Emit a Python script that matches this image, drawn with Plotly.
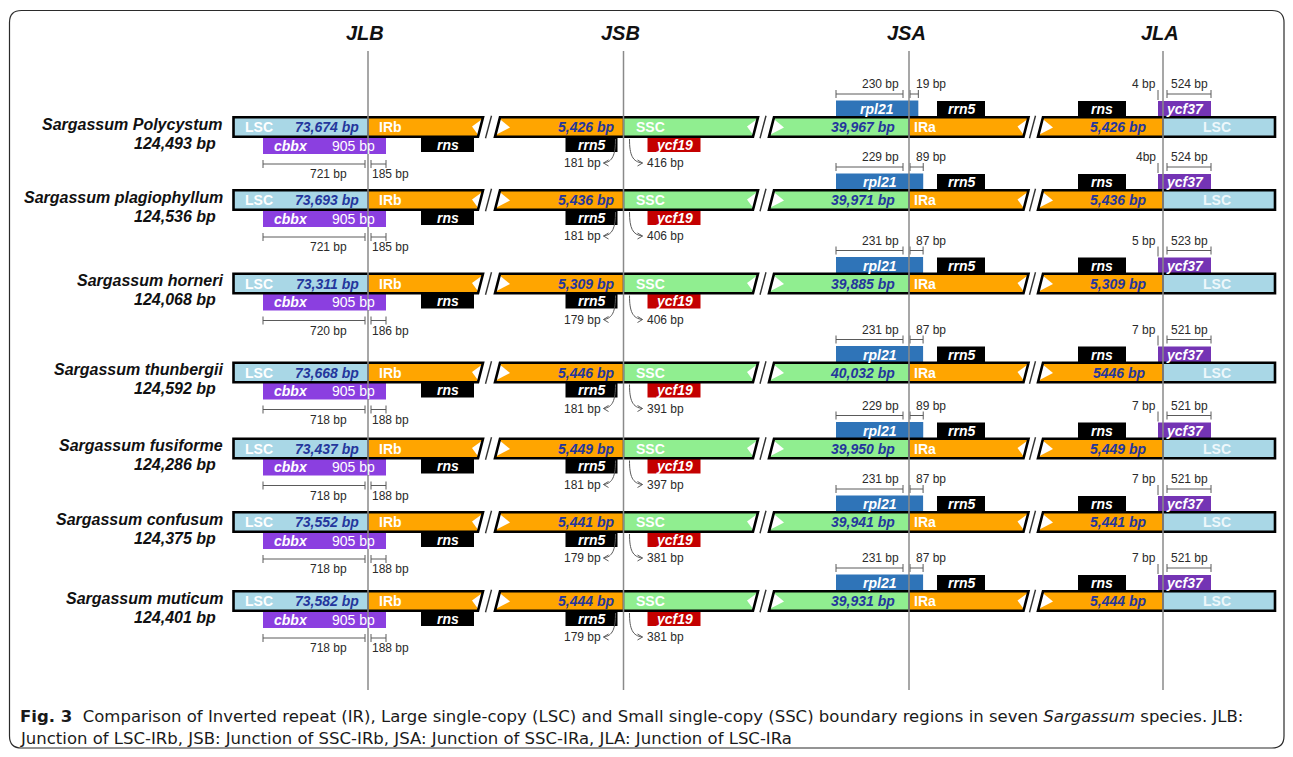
import plotly.graph_objects as go

# ---------------- data ----------------
junctions = ["JLB", "JSB", "JSA", "JLA"]
species = ["Sargassum Polycystum", "Sargassum plagiophyllum", "Sargassum horneri",
           "Sargassum thunbergii", "Sargassum fusiforme", "Sargassum confusum",
           "Sargassum muticum"]
genome_size = ["124,493 bp", "124,536 bp", "124,068 bp", "124,592 bp",
               "124,286 bp", "124,375 bp", "124,401 bp"]
lsc_len = ["73,674 bp", "73,693 bp", "73,311 bp", "73,668 bp", "73,437 bp", "73,552 bp", "73,582 bp"]
irb_len = ["5,426 bp", "5,436 bp", "5,309 bp", "5,446 bp", "5,449 bp", "5,441 bp", "5,444 bp"]
ssc_len = ["39,967 bp", "39,971 bp", "39,885 bp", "40,032 bp", "39,950 bp", "39,941 bp", "39,931 bp"]
ira_len = ["5,426 bp", "5,436 bp", "5,309 bp", "5446 bp", "5,449 bp", "5,441 bp", "5,444 bp"]
cbbx_size = "905 bp"
cbbx_in_lsc = [721, 721, 720, 718, 718, 718, 718]
cbbx_in_irb = [185, 185, 186, 188, 188, 188, 188]
rrn5_to_jsb = [181, 181, 179, 181, 181, 179, 179]
ycf19_to_jsb = [416, 406, 406, 391, 397, 381, 381]
rpl21_in_ssc = [230, 229, 231, 231, 229, 231, 231]
rpl21_in_ira = [19, 89, 87, 87, 89, 87, 87]
ycf37_in_ira = ["4 bp", "4bp", "5 bp", "7 bp", "7 bp", "7 bp", "7 bp"]
ycf37_in_lsc = [524, 524, 523, 521, 521, 521, 521]
caption_1 = ("<b>Fig. 3</b>  Comparison of Inverted repeat (IR), Large single-copy (LSC) and "
             "Small single-copy (SSC) boundary regions in seven <i>Sargassum</i> species. JLB:")
caption_2 = "Junction of LSC-IRb, JSB: Junction of SSC-IRb, JSA: Junction of SSC-IRa, JLA: Junction of LSC-IRa"

# ---------------- layout / style ----------------
FONT = "Liberation Sans, Arial, Helvetica, sans-serif"
W, H = 1293, 757
PAGE_MARGIN = 8          # default body margin of the html page
JX = {"JLB": 368, "JSB": 623.5, "JSA": 909, "JLA": 1163}
ROW_Y = [127, 200, 283.5, 372.5, 448.5, 522, 601]
HALF = 9.75
SL = 5
SEG = [(233.5, 483, False, True, "JLB"), (495, 758, True, True, "JSB"),
       (769, 1028.5, True, True, "JSA"), (1038, 1275, True, False, "JLA")]
SLASHES = [488.5, 763, 1032.5]

C_LSC, C_IR, C_SSC = "#a9d7e6", "#ffa500", "#90ee90"
C_CBBX, C_YCF37, C_RPL21, C_YCF19, C_BLK = "#8b3fe0", "#7434b4", "#2f74b8", "#c40000", "#000000"
C_NUM, C_MEAS, C_MTXT = "#24369c", "#5a5a5a", "#2a2a2a"
MEAS_SIZE = 12

shapes, ann = [], []


def poly(pts):
    return "M " + " L ".join(f"{x:.2f},{y:.2f}" for x, y in pts) + " Z"


def add_fill(pts, fill):
    shapes.append(dict(type="path", xref="x", yref="y", path=poly(pts), fillcolor=fill,
                       line=dict(width=0, color="rgba(0,0,0,0)"), layer="below"))


def add_outline(pts, color, width):
    shapes.append(dict(type="path", xref="x", yref="y", path=poly(pts), fillcolor="rgba(0,0,0,0)",
                       line=dict(width=width, color=color), layer="below"))


def add_line(x0, y0, x1, y1, color, width):
    shapes.append(dict(type="line", xref="x", yref="y", x0=x0, y0=y0, x1=x1, y1=y1,
                       line=dict(color=color, width=width), layer="below"))


def add_path(d, color, width):
    shapes.append(dict(type="path", xref="x", yref="y", path=d, fillcolor="rgba(0,0,0,0)",
                       line=dict(color=color, width=width), layer="below"))


def add_rect(x0, y0, x1, y1, fill):
    shapes.append(dict(type="rect", xref="x", yref="y", x0=x0, y0=y0, x1=x1, y1=y1,
                       fillcolor=fill, line=dict(width=0), layer="below"))


def text(x, y, t, size, color, anchor="center", bold=False, italic=False, family=FONT, align="left"):
    if italic:
        t = f"<i>{t}</i>"
    if bold:
        t = f"<b>{t}</b>"
    ann.append(dict(x=x, y=y, xref="x", yref="y", text=t, showarrow=False, xanchor=anchor,
                    yanchor="middle", align=align, font=dict(family=family, size=size, color=color)))


def measure(xa, xb, y):
    add_line(xa, y, xb, y, C_MEAS, 1)
    add_line(xa, y - 4, xa, y + 4, C_MEAS, 1)
    add_line(xb, y - 4, xb, y + 4, C_MEAS, 1)


# outer rounded frame
x0f, y0f, x1f, y1f, r = 9.5, 10.5, 1284, 748, 12
add_path(f"M {x0f+r},{y0f} L {x1f-r},{y0f} Q {x1f},{y0f} {x1f},{y0f+r} L {x1f},{y1f-r} "
         f"Q {x1f},{y1f} {x1f-r},{y1f} L {x0f+r},{y1f} Q {x0f},{y1f} {x0f},{y1f-r} "
         f"L {x0f},{y0f+r} Q {x0f},{y0f} {x0f+r},{y0f} Z", "#2b2b2b", 1.2)

colors = {"JLB": (C_LSC, C_IR), "JSB": (C_IR, C_SSC), "JSA": (C_SSC, C_IR), "JLA": (C_IR, C_LSC)}

for i, cy in enumerate(ROW_Y):
    top, bot = cy - HALF, cy + HALF
    jlb, jsb, jsa, jla = JX["JLB"], JX["JSB"], JX["JSA"], JX["JLA"]

    # ---- gene boxes (drawn first so the bar outline sits on top) ----
    add_rect(jlb - 105, cy + 10, jlb + 18, cy + 27, C_CBBX)
    add_rect(jlb + 53, cy + 10, jlb + 106, cy + 25, C_BLK)
    add_rect(jsb - 58, cy + 10, jsb - 6, cy + 25, C_BLK)
    add_rect(jsb + 24, cy + 10, jsb + 77, cy + 25, C_YCF19)
    rpl_r = jsa + 8 + 0.07 * rpl21_in_ira[i]
    add_rect(jsa - 73, cy - 26.5, rpl_r, cy - 9.5, C_RPL21)
    add_rect(jsa + 28, cy - 26, jsa + 76, cy - 10, C_BLK)
    add_rect(jla - 85, cy - 26, jla - 37, cy - 10, C_BLK)
    add_rect(jla - 5, cy - 26, jla + 48, cy - 10, C_YCF37)

    # ---- the four bar pieces ----
    for (x0, x1, ls, rs, jn) in SEG:
        J = JX[jn]
        cl, cr = colors[jn]
        tl = x0 + (SL if ls else 0)
        bl = x0
        tr = x1
        br = x1 - (SL if rs else 0)
        add_fill([(tl, top), (J, top), (J, bot), (bl, bot)], cl)
        add_fill([(J, top), (tr, top), (br, bot), (J, bot)], cr)
        if ls:
            add_fill([(bl + 5, top + 2), (bl + 15, cy + 0.5), (bl + 1, bot - 2)], "white")
        if rs:
            add_fill([(tr - 1, top + 2), (tr - 11, cy - 0.5), (tr - 5, bot - 2)], "white")
        add_line(J, top, J, bot, "#222222", 1.5)
        add_outline([(tl, top), (tr, top), (br, bot), (bl, bot)], "#000000", 2.6)
    for sx in SLASHES:
        add_line(sx - 3, bot + 1.5, sx + 3, top - 1.5, "#333333", 1.4)

    # ---- bar texts ----
    text(243, cy, "LSC", 14, "white", "left", bold=True)
    text(jlb - 7, cy, lsc_len[i], 14, C_NUM, "right", bold=True, italic=True)
    text(jlb + 9, cy, "IRb", 14, "white", "left", bold=True)
    text(jsb - 8, cy, irb_len[i], 14, C_NUM, "right", bold=True, italic=True)
    text(jsb + 10, cy, "SSC", 14, "white", "left", bold=True)
    text(jsa - 12, cy, ssc_len[i], 14, C_NUM, "right", bold=True, italic=True)
    text(jsa + 3, cy, "IRa", 14, "white", "left", bold=True)
    text(jla - 15, cy, ira_len[i], 14, C_NUM, "right", bold=True, italic=True)
    text(1217, cy, "LSC", 14, "#eef8fb", "center", bold=True)

    # ---- species ----
    text(225, cy - 3, species[i], 16, "#111111", "right", bold=True, italic=True)
    text(218, cy + 16, genome_size[i], 16, "#111111", "right", bold=True, italic=True)

    # ---- gene labels ----
    text(jlb - 96, cy + 18.5, "cbbx", 14, "white", "left", bold=True, italic=True)
    text(jlb + 9, cy + 18.5, cbbx_size, 14, "white", "right")
    text(jlb + 79.5, cy + 17.5, "rns", 14, "white", "center", bold=True, italic=True)
    text(jsb - 32, cy + 17.5, "rrn5", 14, "white", "center", bold=True, italic=True)
    text(jsb + 50.5, cy + 17.5, "ycf19", 14, "white", "center", bold=True, italic=True)
    text((jsa - 73 + rpl_r) / 2, cy - 18, "rpl21", 14, "white", "center", bold=True, italic=True)
    text(jsa + 52, cy - 18, "rrn5", 14, "white", "center", bold=True, italic=True)
    text(jla - 61, cy - 18, "rns", 14, "white", "center", bold=True, italic=True)
    text(jla + 21.5, cy - 18, "ycf37", 14, "white", "center", bold=True, italic=True)

    # ---- JLB measurements ----
    measure(jlb - 105, jlb - 3, cy + 37)
    measure(jlb + 3, jlb + 18, cy + 37)
    text(jlb - 40, cy + 47, f"{cbbx_in_lsc[i]} bp", MEAS_SIZE, C_MTXT, "center")
    text(jlb + 2, cy + 47, f"{cbbx_in_irb[i]} bp", MEAS_SIZE, C_MTXT, "left")

    # ---- JSB curved arrows ----
    add_path(f"M {jsb-8},{cy+12} C {jsb-8},{cy+28} {jsb-11},{cy+35} {jsb-20},{cy+36}", C_MEAS, 1)
    add_path(f"M {jsb-15},{cy+33} L {jsb-20},{cy+36} L {jsb-15},{cy+39}", C_MEAS, 1)
    add_path(f"M {jsb+6},{cy+12} C {jsb+6},{cy+28} {jsb+9},{cy+35} {jsb+19},{cy+36}", C_MEAS, 1)
    add_path(f"M {jsb+14},{cy+33} L {jsb+19},{cy+36} L {jsb+14},{cy+39}", C_MEAS, 1)
    text(jsb - 21, cy + 36, f"{rrn5_to_jsb[i]} bp", MEAS_SIZE, C_MTXT, "right")
    text(jsb + 21, cy + 36, f"{ycf19_to_jsb[i]} bp", MEAS_SIZE, C_MTXT, "left")

    # ---- JSA measurements ----
    measure(jsa - 73, jsa - 6, cy - 33)
    measure(jsa + 1, rpl_r, cy - 33)
    text(jsa - 29, cy - 43, f"{rpl21_in_ssc[i]} bp", MEAS_SIZE, C_MTXT, "center")
    text(jsa + 5, cy - 43, f"{rpl21_in_ira[i]} bp", MEAS_SIZE, C_MTXT, "left")

    # ---- JLA measurements ----
    add_line(jla - 5, cy - 37, jla - 5, cy - 27, C_MEAS, 1)
    measure(jla + 4, jla + 48, cy - 33)
    text(jla - 5, cy - 43, ycf37_in_ira[i], MEAS_SIZE, C_MTXT, "right")
    text(jla + 26, cy - 43, f"{ycf37_in_lsc[i]} bp", MEAS_SIZE, C_MTXT, "center")

# headers
for j in junctions:
    text(JX[j] - 3, 33, j, 20, "#111111", "center", bold=True, italic=True)

# caption: two lines, each its own text
CAP_FONT = "DejaVu Sans, Noto Sans, sans-serif"
text(18, 716.5, caption_1, 16.5, "#1a1a1a", "left", family=CAP_FONT)
text(18, 738.5, caption_2, 16.5, "#1a1a1a", "left", family=CAP_FONT)

fig = go.Figure()
for j in junctions:
    fig.add_trace(go.Scatter(x=[JX[j], JX[j]], y=[51, 690], mode="lines",
                             line=dict(color="#8a8a8a", width=1.5), hoverinfo="skip",
                             showlegend=False))

fig.update_layout(
    width=W - PAGE_MARGIN, height=H - PAGE_MARGIN, margin=dict(l=0, r=0, t=0, b=0),
    paper_bgcolor="white", plot_bgcolor="white",
    xaxis=dict(range=[PAGE_MARGIN, W], visible=False, fixedrange=True),
    yaxis=dict(range=[H, PAGE_MARGIN], visible=False, fixedrange=True),
    shapes=shapes, annotations=ann, showlegend=False,
)
fig.write_html("out.html")
